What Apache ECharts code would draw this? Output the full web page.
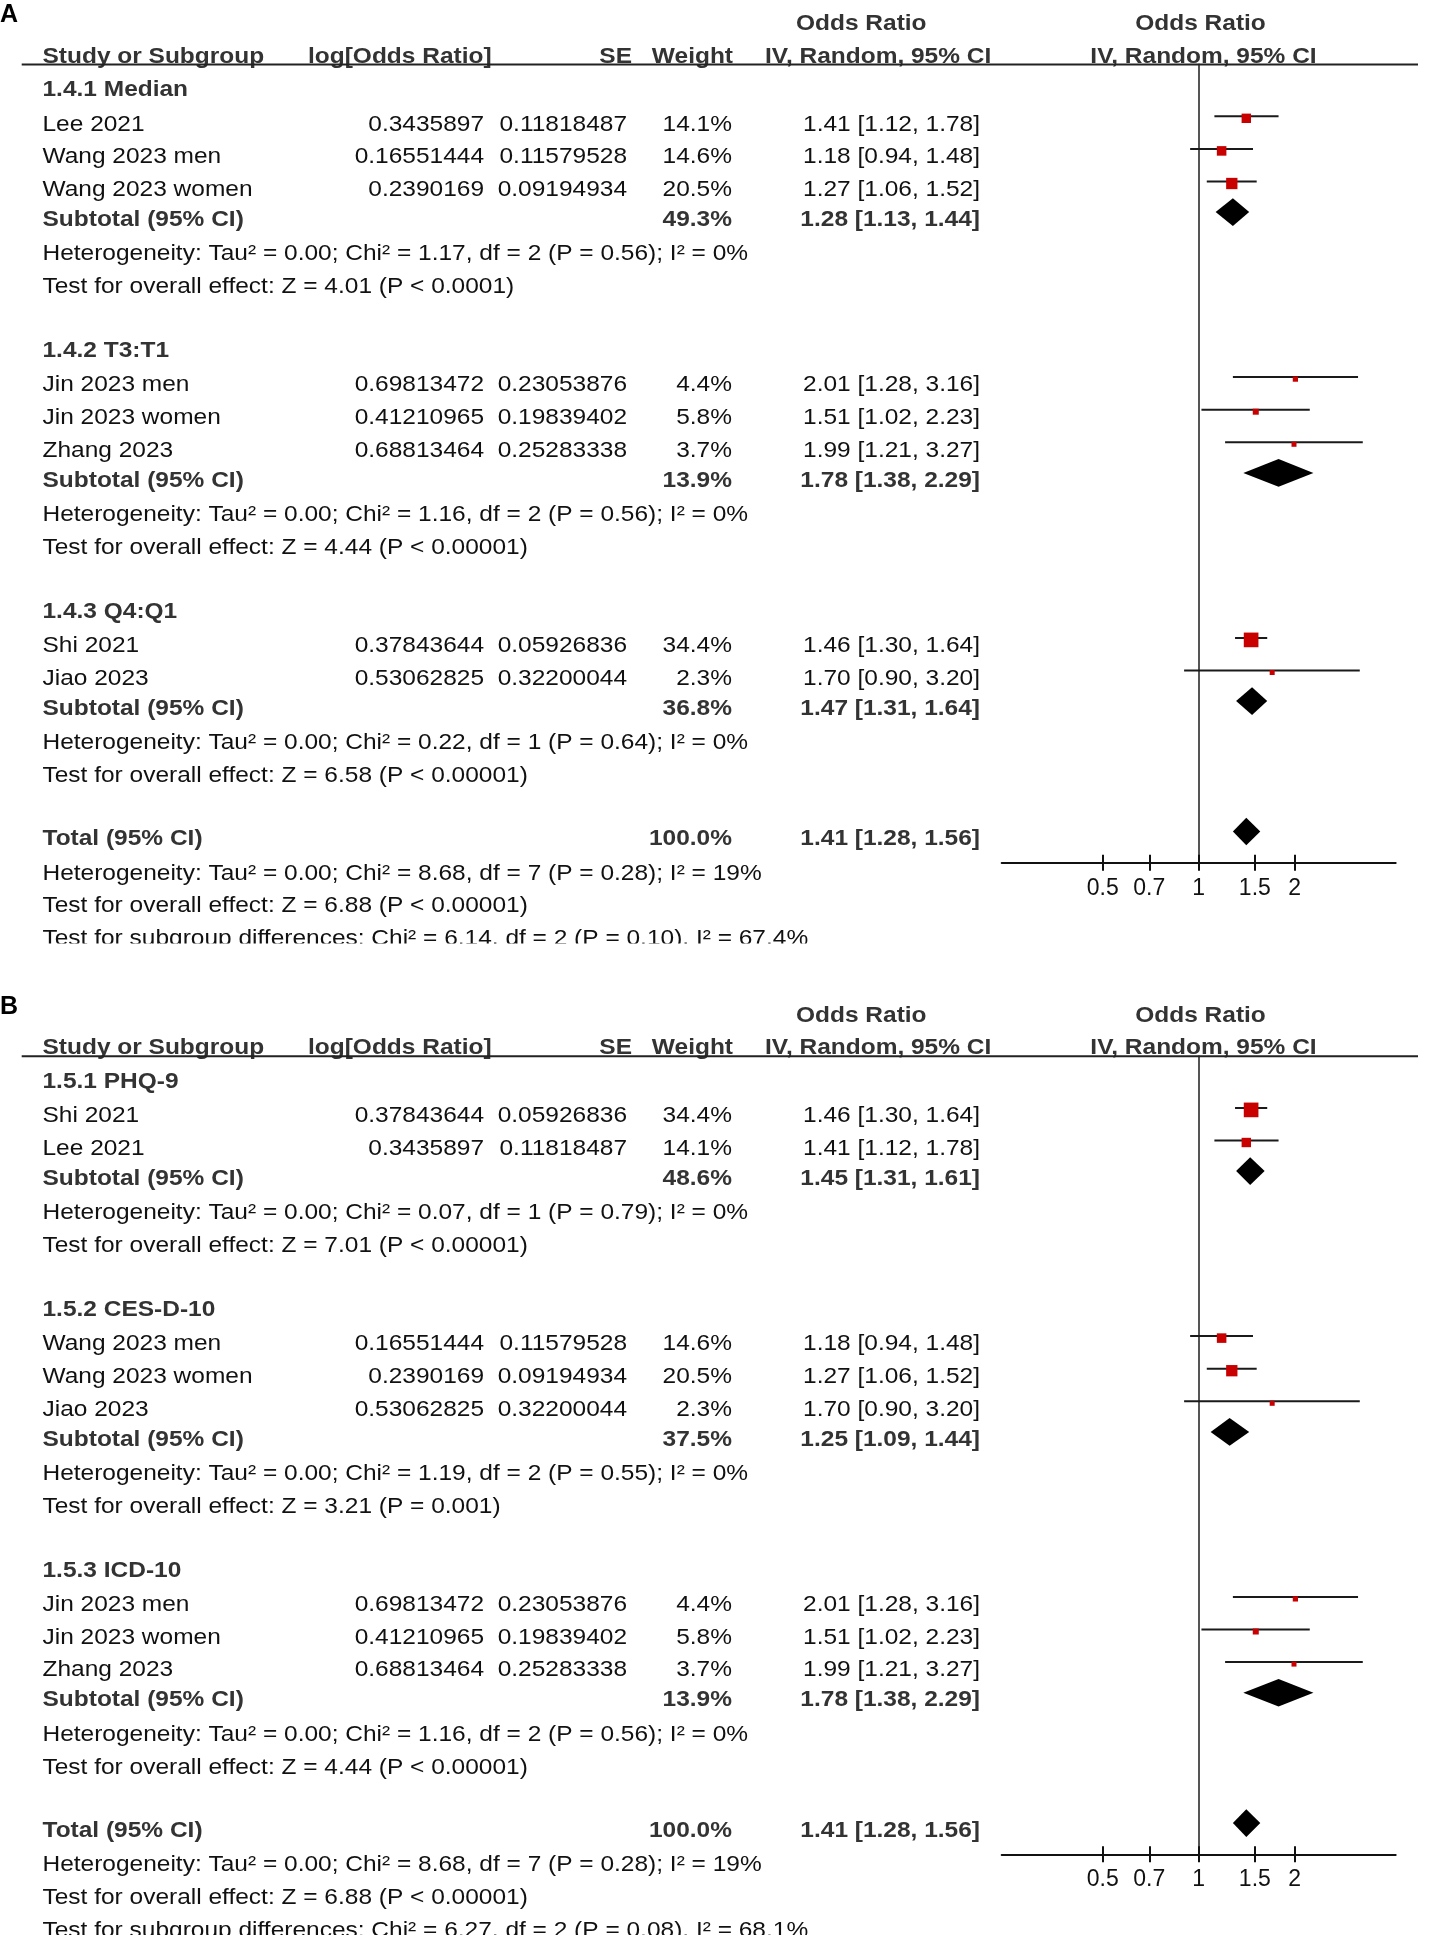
<!DOCTYPE html>
<html>
<head>
<meta charset="utf-8">
<script src="https://cdn.jsdelivr.net/npm/echarts@6/dist/echarts.min.js"></script>
<style>
html,body{margin:0;padding:0;background:#fff;}
#chart{width:1429px;height:1946px;}
</style>
</head>
<body>
<div id="chart"></div>
<script>
// ---------------- DATA ----------------
const HEADER_TOP = ['Odds Ratio', 'Odds Ratio'];
const HEADER_COLS = ['Study or Subgroup', 'log[Odds Ratio]', 'SE', 'Weight', 'IV, Random, 95% CI', 'IV, Random, 95% CI'];
const TICKS = [0.5, 0.7, 1, 1.5, 2];

// Panel A
const A_subTitle = ['1.4.1 Median', '1.4.2 T3:T1', '1.4.3 Q4:Q1'];
const A_study = ['Lee 2021', 'Wang 2023 men', 'Wang 2023 women', 'Jin 2023 men', 'Jin 2023 women', 'Zhang 2023', 'Shi 2021', 'Jiao 2023'];
const A_group = [0, 0, 0, 1, 1, 1, 2, 2];
const A_logOR = [0.3435897, 0.16551444, 0.2390169, 0.69813472, 0.41210965, 0.68813464, 0.37843644, 0.53062825];
const A_se = [0.11818487, 0.11579528, 0.09194934, 0.23053876, 0.19839402, 0.25283338, 0.05926836, 0.32200044];
const A_weight = [14.1, 14.6, 20.5, 4.4, 5.8, 3.7, 34.4, 2.3];
const A_or = [1.41, 1.18, 1.27, 2.01, 1.51, 1.99, 1.46, 1.70];
const A_lo = [1.12, 0.94, 1.06, 1.28, 1.02, 1.21, 1.30, 0.90];
const A_hi = [1.78, 1.48, 1.52, 3.16, 2.23, 3.27, 1.64, 3.20];
const A_subWeight = [49.3, 13.9, 36.8];
const A_subOR = [1.28, 1.78, 1.47];
const A_subLo = [1.13, 1.38, 1.31];
const A_subHi = [1.44, 2.29, 1.64];
const A_subHet = [
  'Heterogeneity: Tau² = 0.00; Chi² = 1.17, df = 2 (P = 0.56); I² = 0%',
  'Heterogeneity: Tau² = 0.00; Chi² = 1.16, df = 2 (P = 0.56); I² = 0%',
  'Heterogeneity: Tau² = 0.00; Chi² = 0.22, df = 1 (P = 0.64); I² = 0%'
];
const A_subTest = [
  'Test for overall effect: Z = 4.01 (P < 0.0001)',
  'Test for overall effect: Z = 4.44 (P < 0.00001)',
  'Test for overall effect: Z = 6.58 (P < 0.00001)'
];
const A_totalWeight = 100.0, A_totalOR = 1.41, A_totalLo = 1.28, A_totalHi = 1.56;
const A_totalNotes = [
  'Heterogeneity: Tau² = 0.00; Chi² = 8.68, df = 7 (P = 0.28); I² = 19%',
  'Test for overall effect: Z = 6.88 (P < 0.00001)',
  'Test for subgroup differences: Chi² = 6.14, df = 2 (P = 0.10), I² = 67.4%'
];

// Panel B
const B_subTitle = ['1.5.1 PHQ-9', '1.5.2 CES-D-10', '1.5.3 ICD-10'];
const B_study = ['Shi 2021', 'Lee 2021', 'Wang 2023 men', 'Wang 2023 women', 'Jiao 2023', 'Jin 2023 men', 'Jin 2023 women', 'Zhang 2023'];
const B_group = [0, 0, 1, 1, 1, 2, 2, 2];
const B_logOR = [0.37843644, 0.3435897, 0.16551444, 0.2390169, 0.53062825, 0.69813472, 0.41210965, 0.68813464];
const B_se = [0.05926836, 0.11818487, 0.11579528, 0.09194934, 0.32200044, 0.23053876, 0.19839402, 0.25283338];
const B_weight = [34.4, 14.1, 14.6, 20.5, 2.3, 4.4, 5.8, 3.7];
const B_or = [1.46, 1.41, 1.18, 1.27, 1.70, 2.01, 1.51, 1.99];
const B_lo = [1.30, 1.12, 0.94, 1.06, 0.90, 1.28, 1.02, 1.21];
const B_hi = [1.64, 1.78, 1.48, 1.52, 3.20, 3.16, 2.23, 3.27];
const B_subWeight = [48.6, 37.5, 13.9];
const B_subOR = [1.45, 1.25, 1.78];
const B_subLo = [1.31, 1.09, 1.38];
const B_subHi = [1.61, 1.44, 2.29];
const B_subHet = [
  'Heterogeneity: Tau² = 0.00; Chi² = 0.07, df = 1 (P = 0.79); I² = 0%',
  'Heterogeneity: Tau² = 0.00; Chi² = 1.19, df = 2 (P = 0.55); I² = 0%',
  'Heterogeneity: Tau² = 0.00; Chi² = 1.16, df = 2 (P = 0.56); I² = 0%'
];
const B_subTest = [
  'Test for overall effect: Z = 7.01 (P < 0.00001)',
  'Test for overall effect: Z = 3.21 (P = 0.001)',
  'Test for overall effect: Z = 4.44 (P < 0.00001)'
];
const B_totalWeight = 100.0, B_totalOR = 1.41, B_totalLo = 1.28, B_totalHi = 1.56;
const B_totalNotes = [
  'Heterogeneity: Tau² = 0.00; Chi² = 8.68, df = 7 (P = 0.28); I² = 19%',
  'Test for overall effect: Z = 6.88 (P < 0.00001)',
  'Test for subgroup differences: Chi² = 6.27, df = 2 (P = 0.08), I² = 68.1%'
];

// ---------------- LAYOUT / STYLE ----------------
const W = 1429;
const ROW0 = 88.2;          // y of first row centre (panel A)
const ROWPX = 32.6;         // px per row
const PANEL_B_OFFSET = 991.6;
const CLIP_Y = 943.5;       // bottom of visible text area (per panel)
const HEADER_LINE_Y = 64.6;
const AXIS_Y = 862.7;
const FOREST_LEFT = 1001.7, FOREST_RIGHT = 1395.7, XHALF = 1.4225;
const FONT = '"Liberation Sans", Arial, Helvetica, sans-serif';
const FS = 22.5, SX = 1.088;
const TXT = '#111', BOLD = '#333';
const COL = { name: 42.5, logOR: 484, se: 627, w: 732, ci: 980, hdrLog: 308, hdrSE: 632, hdrW: 733, hdrCI: 765, hdrOR1: 796, hdrOR2: 1200.5, hdrCI2: 1203.5, ruleL: 21.7, ruleR: 1418 };
// per row-type vertical nudge (px) of text baseline
const NUDGE = { hdr1: 1, hdr2: 1, group: 1.5, study: 3.5, sub: 1, note: 3 };
const LINE_DY = -4.5, BOX_DY = 2, DIAMOND_DY = -6.5, DIAMOND_H = 13.8;

const fmtCI = (e, l, h) => e.toFixed(2) + ' [' + l.toFixed(2) + ', ' + h.toFixed(2) + ']';

function buildPanel(subTitle, study, group, logOR, se, weight, or, lo, hi,
                    subWeight, subOR, subLo, subHi, subHet, subTest,
                    totW, totOR, totLo, totHi, totNotes) {
  const rows = [{ row: -2, type: 'hdr1' }, { row: -1, type: 'hdr2' }];
  const marks = [];
  let r = 0;
  subTitle.forEach((t, g) => {
    rows.push({ row: r++, type: 'group', text: t });
    study.forEach((s, i) => {
      if (group[i] !== g) return;
      rows.push({ row: r, type: 'study', name: s, logOR: String(logOR[i]), se: String(se[i]),
                  w: weight[i].toFixed(1) + '%', ci: fmtCI(or[i], lo[i], hi[i]) });
      marks.push({ row: r, kind: 'box', est: or[i], lo: lo[i], hi: hi[i], w: weight[i] });
      r++;
    });
    rows.push({ row: r, type: 'sub', name: 'Subtotal (95% CI)', w: subWeight[g].toFixed(1) + '%', ci: fmtCI(subOR[g], subLo[g], subHi[g]) });
    marks.push({ row: r, kind: 'diamond', est: subOR[g], lo: subLo[g], hi: subHi[g], w: subWeight[g] });
    r++;
    rows.push({ row: r++, type: 'note', text: subHet[g] });
    rows.push({ row: r++, type: 'note', text: subTest[g] });
    r++;
  });
  rows.push({ row: r, type: 'sub', name: 'Total (95% CI)', w: totW.toFixed(1) + '%', ci: fmtCI(totOR, totLo, totHi) });
  marks.push({ row: r, kind: 'diamond', est: totOR, lo: totLo, hi: totHi, w: totW });
  r++;
  totNotes.forEach(n => rows.push({ row: r++, type: 'note', text: n }));
  return { rows, marks };
}

const PA = buildPanel(A_subTitle, A_study, A_group, A_logOR, A_se, A_weight, A_or, A_lo, A_hi,
  A_subWeight, A_subOR, A_subLo, A_subHi, A_subHet, A_subTest,
  A_totalWeight, A_totalOR, A_totalLo, A_totalHi, A_totalNotes);
const PB = buildPanel(B_subTitle, B_study, B_group, B_logOR, B_se, B_weight, B_or, B_lo, B_hi,
  B_subWeight, B_subOR, B_subLo, B_subHi, B_subHet, B_subTest,
  B_totalWeight, B_totalOR, B_totalLo, B_totalHi, B_totalNotes);

function textRender(rows) {
  return function (params, api) {
    const it = rows[params.dataIndex];
    const y = api.coord([0, api.value(1)])[1] + (NUDGE[it.type] || 0);
    const X = px => api.coord([px, 0])[0];
    const kids = [];
    const T = (txt, px, align, bold) => kids.push({
      type: 'text', x: X(px), y: y, scaleX: SX, silent: true,
      style: { text: txt, fill: bold ? BOLD : TXT, fontFamily: FONT, fontSize: FS,
               fontWeight: bold ? 'bold' : 'normal', align: align, verticalAlign: 'middle',
               textAlign: align, textVerticalAlign: 'middle' }
    });
    switch (it.type) {
      case 'hdr1':
        T(HEADER_TOP[0], COL.hdrOR1, 'left', true);
        T(HEADER_TOP[1], COL.hdrOR2, 'center', true);
        break;
      case 'hdr2': {
        T(HEADER_COLS[0], COL.name, 'left', true);
        T(HEADER_COLS[1], COL.hdrLog, 'left', true);
        T(HEADER_COLS[2], COL.hdrSE, 'right', true);
        T(HEADER_COLS[3], COL.hdrW, 'right', true);
        T(HEADER_COLS[4], COL.hdrCI, 'left', true);
        T(HEADER_COLS[5], COL.hdrCI2, 'center', true);
        const ly = api.coord([0, (HEADER_LINE_Y - ROW0) / ROWPX])[1];
        kids.push({ type: 'line', silent: true, shape: { x1: X(COL.ruleL), y1: ly, x2: X(COL.ruleR), y2: ly },
                    style: { stroke: '#222', lineWidth: 2 } });
        break;
      }
      case 'group':
        T(it.text, COL.name, 'left', true);
        break;
      case 'study':
        T(it.name, COL.name, 'left', false);
        T(it.logOR, COL.logOR, 'right', false);
        T(it.se, COL.se, 'right', false);
        T(it.w, COL.w, 'right', false);
        T(it.ci, COL.ci, 'right', false);
        break;
      case 'sub':
        T(it.name, COL.name, 'left', true);
        T(it.w, COL.w, 'right', true);
        T(it.ci, COL.ci, 'right', true);
        break;
      case 'note':
        T(it.text, COL.name, 'left', false);
        break;
    }
    return { type: 'group', children: kids };
  };
}

function forestRender(marks) {
  return function (params, api) {
    const m = marks[params.dataIndex];
    const yRow = api.coord([0, api.value(3)])[1];
    const pe = api.coord([api.value(0), 0])[0];
    const lo = api.coord([api.value(1), 0])[0];
    const hi = api.coord([api.value(2), 0])[0];
    if (m.kind === 'box') {
      const ly = yRow + LINE_DY;
      const s = Math.max(5, 2.5 * Math.sqrt(m.w));
      return { type: 'group', children: [
        { type: 'line', shape: { x1: lo, y1: ly, x2: hi, y2: ly }, style: { stroke: '#1a1a1a', lineWidth: 2 } },
        { type: 'rect', shape: { x: pe - s / 2, y: ly + BOX_DY - s / 2, width: s, height: s }, style: { fill: '#c80000' } }
      ] };
    }
    const cy = yRow + DIAMOND_DY;
    return { type: 'polygon', shape: { points: [[lo, cy], [pe, cy - DIAMOND_H], [hi, cy], [pe, cy + DIAMOND_H]] },
             style: { fill: '#000' } };
  };
}

const lnTicks = TICKS.map(Math.log);
const tickFmt = v => String(+Math.exp(v).toFixed(1));

const grids = [], xAxes = [], yAxes = [], series = [], titles = [];
[[PA, 0, 'A'], [PB, PANEL_B_OFFSET, 'B']].forEach(([P, off, label]) => {
  const gText = grids.length;
  grids.push({ left: 0, width: W, top: off, height: CLIP_Y });
  const gForest = grids.length;
  grids.push({ left: FOREST_LEFT, width: FOREST_RIGHT - FOREST_LEFT, top: off + HEADER_LINE_Y, height: AXIS_Y - HEADER_LINE_Y });

  const xText = xAxes.length;
  xAxes.push({ gridIndex: gText, type: 'value', min: 0, max: W, show: false });
  const xF = xAxes.length;
  xAxes.push({ gridIndex: gForest, type: 'value', min: -XHALF, max: XHALF, position: 'bottom',
    axisLine: { show: true, onZero: false, lineStyle: { color: '#111', width: 2 } },
    axisTick: { show: true, customValues: lnTicks, length: 8, lineStyle: { color: '#111', width: 2 } },
    axisLabel: { show: true, customValues: lnTicks, formatter: tickFmt, margin: 14, fontSize: 23, color: '#111', fontFamily: FONT },
    splitLine: { show: false } });
  xAxes.push({ gridIndex: gForest, type: 'value', min: -XHALF, max: XHALF, position: 'bottom',
    axisLine: { show: false, onZero: false },
    axisTick: { show: true, inside: true, customValues: lnTicks, length: 8, lineStyle: { color: '#111', width: 2 } },
    axisLabel: { show: false }, splitLine: { show: false } });

  const yText = yAxes.length;
  yAxes.push({ gridIndex: gText, type: 'value', inverse: true, min: (0 - ROW0) / ROWPX, max: (CLIP_Y - ROW0) / ROWPX, show: false });
  const yF = yAxes.length;
  yAxes.push({ gridIndex: gForest, type: 'value', inverse: true,
    min: (HEADER_LINE_Y - ROW0) / ROWPX, max: (AXIS_Y - ROW0) / ROWPX,
    axisLine: { show: true, onZero: true, lineStyle: { color: '#555', width: 2 } },
    axisTick: { show: false }, axisLabel: { show: false }, splitLine: { show: false } });

  series.push({ type: 'custom', xAxisIndex: xText, yAxisIndex: yText, clip: true, silent: true,
    data: P.rows.map(r => [0, r.row]), encode: { x: 0, y: 1 }, renderItem: textRender(P.rows) });
  series.push({ type: 'custom', xAxisIndex: xF, yAxisIndex: yF, clip: false, silent: true,
    data: P.marks.map(m => [Math.log(m.est), Math.log(m.lo), Math.log(m.hi), m.row]),
    encode: { x: [0, 1, 2], y: 3 }, renderItem: forestRender(P.marks) });

  titles.push({ text: label, left: 0, top: off + 3, padding: 0,
    textStyle: { fontSize: 25, fontWeight: 'bold', color: '#000', fontFamily: FONT } });
});

const chart = echarts.init(document.getElementById('chart'), null, { renderer: 'canvas' });
chart.setOption({
  animation: false,
  backgroundColor: '#fff',
  title: titles,
  grid: grids,
  xAxis: xAxes,
  yAxis: yAxes,
  series: series
});
</script>
</body>
</html>
